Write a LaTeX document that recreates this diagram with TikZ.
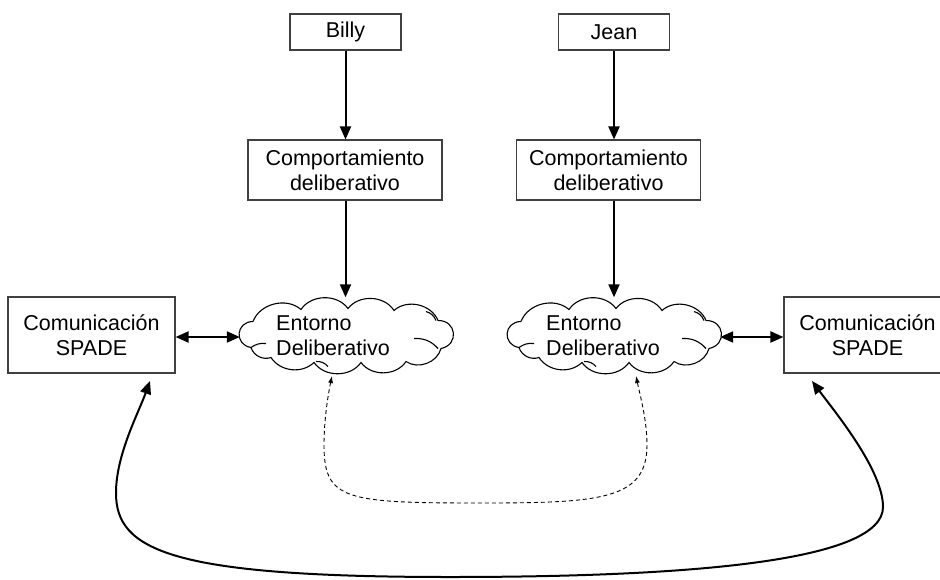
\documentclass[tikz,border=0pt]{standalone}
\usepackage{fontspec}
\setmainfont{Liberation Sans}
\usetikzlibrary{arrows.meta}

% Cloud outline round the centre of a named node: one puff between each pair of
% junction points (x/y offsets from the centre, bend angle, looseness), then a few
% short inner curls.
\newcommand\drawpuffs[1]{%
  \draw[puffline] ([shift={(-93,-14)}]#1.center)
    \foreach \x/\y/\b/\l in {-45/-26/55/1, 2/-27/55/1, 48/-25/55/1, 92/-15/55/1,
                             95/13/85/1.7, 60/26/55/1, 15/27/55/1, -32/27/55/1,
                             -75/22/50/1, -95/12/45/1, -93/-14/85/1.7}
      { to[bend left=\b, looseness=\l] ([shift={(\x,\y)}]#1.center) };
  \draw[puffline] ([shift={(-95,12)}]#1.center) to[bend left=20] ([shift={(-80,8)}]#1.center);
  \draw[puffline] ([shift={(80,-24)}]#1.center) to[bend left=25] ([shift={(90,-15)}]#1.center);
  \draw[puffline] ([shift={(68,3)}]#1.center) to[bend left=25] ([shift={(92,13)}]#1.center);
  \draw[puffline] ([shift={(-30,26)}]#1.center) to[bend left=25] ([shift={(-18,31)}]#1.center);
}

\begin{document}
\begin{tikzpicture}[x=1pt,y=-1pt,
  txt/.style={font=\fontsize{21.5}{25}\selectfont},
  box/.style={txt, draw=black!75, line width=1.1pt, fill=white, align=center, inner sep=0pt},
  envarea/.style={inner sep=0pt, minimum width=212pt, minimum height=76pt},
  puffline/.style={draw=black, line width=1.1pt},
  lbl/.style={txt, align=left, inner sep=0pt},
  flow/.style={line width=2pt, -{Triangle[length=13pt,width=11pt]}},
  both/.style={line width=2pt, {Triangle[length=13pt,width=11pt]}-{Triangle[length=13pt,width=11pt]}},
  link/.style={line width=0.9pt, dash pattern=on 4pt off 3pt,
    {Latex[length=7pt,width=5pt]}-{Latex[length=7pt,width=5pt]}},
]
\useasboundingbox (0,0) rectangle (940,579);
\clip (0,0) rectangle (940,579);

% agents
\node[box, minimum width=111pt, minimum height=36pt] (billy) at (345.5,32) {Billy};
\node[box, minimum width=111pt, minimum height=36pt] (jean) at (614,32) {Jean};

% deliberative behaviour
\node[box, minimum width=194pt, minimum height=60pt] (compL) at (345,170) {Comportamiento\\deliberativo};
\node[box, minimum width=184pt, minimum height=60pt] (compR) at (608.5,170) {Comportamiento\\deliberativo};

% SPADE communication
\node[box, minimum width=167pt, minimum height=76pt] (comL) at (91.5,335) {Comunicación\\SPADE};
\node[box, minimum width=167pt, minimum height=76pt] (comR) at (867.5,335) {Comunicación\\SPADE};

% deliberative environments
\node[envarea] (cloudL) at (346,335.5) {};
\drawpuffs{cloudL}
\node[lbl] (cloudLtext) at (333,336) {Entorno\\Deliberativo};
\node[envarea] (cloudR) at (614,335.5) {};
\drawpuffs{cloudR}
\node[lbl] (cloudRtext) at (603,336) {Entorno\\Deliberativo};

% vertical flows
\draw[flow] (billy.south) -- (billy.south |- compL.north);
\draw[flow] (billy.south |- compL.south) -- (billy.south |- cloudL.north);
\draw[flow] (jean.south) -- (jean.south |- compR.north);
\draw[flow] (jean.south |- compR.south) -- (jean.south |- cloudR.north);

% communication <-> environment
\draw[both] (comL.east |- 0,337) -- (cloudL.west |- 0,337);
\draw[both] (cloudR.east |- 0,337) -- (comR.west |- 0,337);

% end points of the lower curves
\coordinate (tipL) at (150,381);
\coordinate (tipR) at (812,381);
\coordinate (dL) at (332,376);
\coordinate (dR) at (636,376);

% link between the two environments
\draw[link] (dL) .. controls (328,395) and (324,420) .. (324,445)
  .. controls (324,500) and (345,503) .. (480,503)
  .. controls (600,503) and (647,500) .. (647,445)
  .. controls (647,420) and (640,395) .. (dR);

% link between the two communication modules
\draw[both] (tipL) .. controls (138,414) and (116,455) .. (116,493)
  .. controls (116,550) and (170,577) .. (450,577)
  .. controls (700,577) and (883,560) .. (883,507)
  .. controls (883,470) and (835,412) .. (tipR);
\end{tikzpicture}
\end{document}
